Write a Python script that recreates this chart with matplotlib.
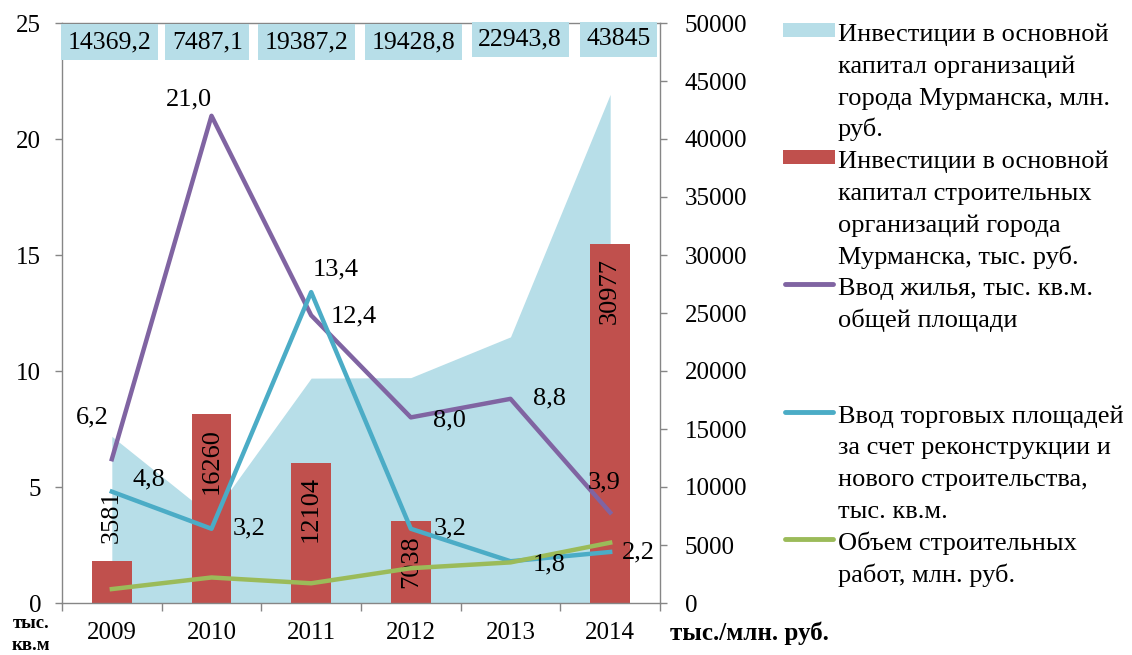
import matplotlib.pyplot as plt
from matplotlib.patches import Rectangle
from matplotlib.lines import Line2D
import numpy as np

plt.rcParams['font.family'] = ['Liberation Serif', 'DejaVu Serif']

# Step 1: Data
years = ['2009', '2010', '2011', '2012', '2013', '2014']
invest_city = [14369.2, 7487.1, 19387.2, 19428.8, 22943.8, 43845]       # млн. руб.
invest_builders = [3581, 16260, 12104, 7038, np.nan, 30977]             # тыс. руб.
housing = [6.2, 21.0, 12.4, 8.0, 8.8, 3.9]                              # тыс. кв.м
retail = [4.8, 3.2, 13.4, 3.2, 1.8, 2.2]                                # тыс. кв.м
construction = [0.6, 1.1, 0.85, 1.5, 1.75, 2.6]

legend_labels = [
    'Инвестиции в основной\nкапитал организаций\nгорода Мурманска, млн.\nруб.',
    'Инвестиции в основной\nкапитал строительных\nорганизаций города\nМурманска, тыс. руб.',
    'Ввод жилья, тыс. кв.м.\nобщей площади',
    'Ввод торговых площадей\nза счет реконструкции и\nнового строительства,\nтыс. кв.м.',
    'Объем строительных\nработ, млн. руб.',
]

# colours
c_area = '#B7DEE8'
c_bar = '#C0504D'
c_house = '#8064A2'
c_retail = '#4BACC6'
c_constr = '#9BBB59'
c_axis = '#868686'

W, H = 1132, 655
FS = 18      # ticks
FL = 19      # data labels / legend

def fmt(v):
    return f'{v:.1f}'.replace('.', ',')

# Step 2: Figure and axes
fig = plt.figure(figsize=(W / 100, H / 100), dpi=100)
ax = fig.add_axes([62 / W, 1 - 603 / H, (660 - 62) / W, (603 - 23) / H])
ax2 = ax.twinx()
ax.set_zorder(ax2.get_zorder() + 1)
ax.patch.set_visible(False)

x = np.arange(len(years))

# area + bars on the right axis
ax2.fill_between(x, invest_city, color=c_area, lw=0, zorder=1)
ax2.bar(x, invest_builders, width=0.4, color=c_bar, zorder=2)
ax2.set_ylim(0, 50000)
ax2.set_axisbelow(True)
ax2.set_yticks(np.arange(0, 50001, 5000))
ax2.set_yticks(np.arange(10000, 50000, 10000), minor=True)
ax2.yaxis.grid(True, which='minor', color=c_axis, lw=1)
ax2.tick_params(axis='y', which='minor', length=0)
ax2.tick_params(axis='y', which='major', direction='out', length=5, width=1,
                color=c_axis, labelsize=FS, pad=13)

# lines on the left axis
ax.plot(x, housing, color=c_house, lw=3.2, zorder=3)
ax.plot(x, retail, color=c_retail, lw=3.2, zorder=3)
ax.plot(x, construction, color=c_constr, lw=3.2, zorder=3)
ax.set_ylim(0, 25)
ax.set_xlim(-0.5, len(years) - 0.5)
ax.set_yticks(np.arange(0, 26, 5))
ax.tick_params(axis='y', direction='out', length=5, width=1, color=c_axis,
               labelsize=FS, pad=10)
ax.set_xticks(np.arange(-0.5, len(years), 1))
ax.set_xticklabels([])
ax.set_xticks(x, minor=True)
ax.set_xticklabels(years, minor=True)
ax.tick_params(axis='x', which='major', direction='out', length=6, width=1, color=c_axis)
ax.tick_params(axis='x', which='minor', length=0, labelsize=FS, pad=14)

for a in (ax, ax2):
    for s in a.spines.values():
        s.set_color(c_axis)
        s.set_linewidth(1)
ax.spines['right'].set_visible(False)
ax2.spines['left'].set_visible(False)
ax2.spines['top'].set_visible(False)
ax2.spines['bottom'].set_visible(False)

# Step 3: Data labels
house_off = [(-14, 30), (-16, 12), (31, -1), (28, -2), (28, 0), (-4, 22)]
retail_off = [(27, 9), (27, 0), (18, 16), (28, 0), (28, -2), (20, 0)]
for i, v in enumerate(housing):
    ax.annotate(fmt(v), (x[i], v), xytext=house_off[i], textcoords='offset points',
                ha='center', va='center', fontsize=FL, zorder=5)
for i, v in enumerate(retail):
    ax.annotate(fmt(v), (x[i], v), xytext=retail_off[i], textcoords='offset points',
                ha='center', va='center', fontsize=FL, zorder=5)

for i, v in enumerate(invest_builders):
    if np.isnan(v):
        continue
    if v < 5000:
        ax2.annotate(f'{v:.0f}', (x[i], v), xytext=(0, 13), textcoords='offset points',
                     rotation=90, ha='center', va='bottom', fontsize=FL)
    else:
        ax2.annotate(f'{v:.0f}', (x[i], v), xytext=(0, -10), textcoords='offset points',
                     rotation=90, ha='center', va='top', fontsize=FL)

# boxed value labels of the area series, nudged apart like in the original
box_off = [(-1.5, 0), (-3, 0), (-3.5, 0), (2, 0), (7, 2), (6, 2)]
for i, v in enumerate(invest_city):
    txt = f'{v:.1f}'.replace('.', ',').replace(',0', '')
    ax.annotate(txt, (x[i], 0.967), xycoords=('data', 'axes fraction'),
                xytext=box_off[i], textcoords='offset points',
                ha='center', va='center', fontsize=18.5, zorder=6,
                bbox=dict(boxstyle='square,pad=0.26', fc=c_area, ec='none'))

# Step 4: Axis unit labels
fig.text(670 / W, 1 - 633 / H, 'тыс./млн. руб.', fontsize=18, fontweight='bold',
         ha='left', va='center')
fig.text(31 / W, 1 - 624 / H, 'тыс.', fontsize=13.5, fontweight='bold', ha='center', va='center')
fig.text(31 / W, 1 - 646 / H, 'кв.м', fontsize=13.5, fontweight='bold', ha='center', va='center')

# Step 5: Legend (drawn by hand so handles sit on the first text line)
kinds = [('rect', c_area), ('rect', c_bar), ('line', c_house), ('line', c_retail), ('line', c_constr)]
start_rows = [0, 4, 8, 12, 16]
row_h = 31.8
for (kind, col), lab, r in zip(kinds, legend_labels, start_rows):
    yc = 33 + r * row_h
    if kind == 'rect':
        fig.add_artist(Rectangle((783 / W, 1 - (yc + 4) / H), 52 / W, 14 / H,
                                 transform=fig.transFigure, color=col, lw=0))
    else:
        fig.add_artist(Line2D([785 / W, 833 / W], [1 - (yc - 3) / H] * 2,
                              transform=fig.transFigure, color=col, lw=3.5,
                              solid_capstyle='round'))
    for k, line in enumerate(lab.split('\n')):
        fig.text(838 / W, 1 - (yc + 8 + k * row_h) / H, line, fontsize=FL,
                 ha='left', va='baseline')

fig.savefig('out.png', dpi=100)
